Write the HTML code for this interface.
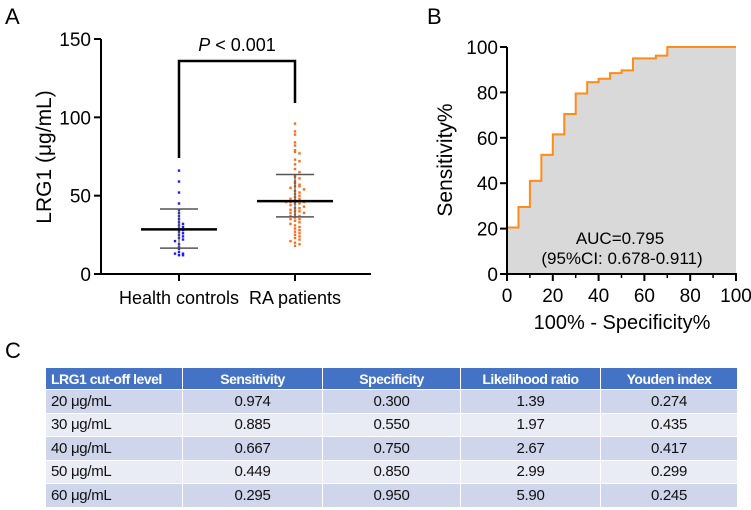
<!DOCTYPE html>
<html><head><meta charset="utf-8"><style>
body{margin:0;background:#fff;width:751px;height:510px;overflow:hidden;font-family:"Liberation Sans",Arial,sans-serif}
table{position:absolute;left:45px;top:367px;width:692px;border-collapse:collapse;font-size:15px;color:#111;table-layout:fixed;letter-spacing:-0.3px}
td,th{height:22.5px;padding:0 5px;border:1.5px solid #fff;text-align:center}
th{background:#4472C4;color:#fff;font-weight:bold;height:21px;font-size:14px;letter-spacing:-0.5px}
td:first-child,th:first-child{text-align:left}
tr:nth-child(even) td{background:#CFD5EA}
tr:nth-child(odd) td{background:#E9EBF5}
</style></head><body>
<svg id="s" width="751" height="510" style="position:absolute;left:0;top:0"></svg>
<table>
<colgroup><col style="width:137px"><col style="width:140px"><col style="width:138px"><col style="width:140px"><col style="width:137px"></colgroup>
<tr><th>LRG1 cut-off level</th><th>Sensitivity</th><th>Specificity</th><th>Likelihood ratio</th><th>Youden index</th></tr>
<tr><td>20 μg/mL</td><td>0.974</td><td>0.300</td><td>1.39</td><td>0.274</td></tr>
<tr><td>30 μg/mL</td><td>0.885</td><td>0.550</td><td>1.97</td><td>0.435</td></tr>
<tr><td>40 μg/mL</td><td>0.667</td><td>0.750</td><td>2.67</td><td>0.417</td></tr>
<tr><td>50 μg/mL</td><td>0.449</td><td>0.850</td><td>2.99</td><td>0.299</td></tr>
<tr><td>60 μg/mL</td><td>0.295</td><td>0.950</td><td>5.90</td><td>0.245</td></tr>
</table>
<script>
const groups=["Health controls","RA patients"];
const healthVals=[66,59,52,45,41,39,37,35,33,32,31,30,29,28,27,26,25,24,23,22,21,19,17,16,14,13,13,12,12];
const raVals=[96,91,89,84,82,79,78,77,73,72,70,67,65,63,62,61,59,58,57,56,56,55,54,53,52,51,50,49,48,48,47,47,46,46,46,45,45,44,43,42,42,41,40,40,39,39,38,37,37,36,35,35,34,33,32,31,30,29,28,27,26,25,24,23,22,21,20,19,18];
const groupMean=[28.5,46.5];
const groupSdLow=[16.5,36.5];
const groupSdHigh=[41.5,63.5];
const yTicksA=[0,50,100,150];
const rocX=[0,0,5,5,10,10,15,15,20,20,25,25,30,30,35,35,40,40,45,45,50,50,55,55,65,65,70,70,100];
const rocY=[0,20.5,20.5,29.5,29.5,41,41,52.5,52.5,61.5,61.5,70.5,70.5,79.5,79.5,84.5,84.5,86,86,88.5,88.5,89.7,89.7,95,95,96.2,96.2,100,100];
const rocTicks=[0,20,40,60,80,100];

const s=document.getElementById('s');const NS='http://www.w3.org/2000/svg';
function el(t,a,txt){const e=document.createElementNS(NS,t);for(const k in a)e.setAttribute(k,a[k]);if(txt!=null)e.textContent=txt;s.appendChild(e);return e;}
const yA=v=>274-v*(235/150);const xA=[179,295];
let e;
e=el('text',{x:5,y:24,'font-size':22},'A');
e=el('text',{x:427,y:24,'font-size':22},'B');
e=el('text',{x:5,y:358,'font-size':22},'C');
e=el('line',{x1:101,y1:yA(150),x2:101,y2:275,stroke:'#000','stroke-width':2});
e=el('line',{x1:100,y1:274,x2:371,y2:274,stroke:'#000','stroke-width':2});
yTicksA.forEach(t=>{
 e=el('line',{x1:94,y1:yA(t),x2:101,y2:yA(t),stroke:'#000','stroke-width':2});
 e=el('text',{x:91,y:yA(t)+7,'font-size':19,'text-anchor':'end'},t);
});
groups.forEach((g,i)=>{
 e=el('line',{x1:xA[i],y1:274,x2:xA[i],y2:281,stroke:'#000','stroke-width':2});
 e=el('text',{x:xA[i],y:304,'font-size':18,'text-anchor':'middle'},g);
});
e=el('text',{x:0,y:0,'font-size':21,'text-anchor':'middle',transform:'translate(51,157) rotate(-90)'},'LRG1 (μg/mL)');
function swarm(vals,cx,color,name,w){
 const bins={};
 vals.forEach(v=>{const b=Math.round(v/2.2);const n=bins[b]||0;bins[b]=n+1;
  const off=n===0?0:(n%2?1:-1)*Math.ceil(n/2)*w;
  e=el('rect',{x:cx+off-1.2,y:yA(v)-1.2,width:2.4,height:2.4,fill:color});});
}
swarm(healthVals,xA[0],'#1a1aff','point-health',4);
swarm(raVals,xA[1],'#ff6a1a','point-ra',4.5);
groups.forEach((g,i)=>{
 const c=xA[i];
 e=el('line',{x1:c,y1:yA(groupSdLow[i]),x2:c,y2:yA(groupSdHigh[i]),stroke:'#555','stroke-width':1.2});
 [groupSdLow[i],groupSdHigh[i]].forEach(v=>{e=el('line',{x1:c-19,y1:yA(v),x2:c+19,y2:yA(v),stroke:'#555','stroke-width':1.5});});
 e=el('line',{x1:c-38,y1:yA(groupMean[i]),x2:c+38,y2:yA(groupMean[i]),stroke:'#000','stroke-width':2.5});
});
e=el('polyline',{points:`179,158 179,61 295,61 295,103`,fill:'none',stroke:'#000','stroke-width':2.5});
e=el('text',{x:237,y:51,'font-size':18,'text-anchor':'middle'});
e.innerHTML='<tspan font-style="italic">P</tspan> &lt; 0.001';
const xB=v=>507+v*2.29, yB=v=>274-v*2.27;
let pts=rocX.map((x,i)=>xB(x)+','+yB(rocY[i])).join(' ');
e=el('polygon',{points:pts+' '+xB(100)+','+yB(0),fill:'#d9d9d9'});
e=el('line',{x1:xB(0),y1:yB(0),x2:xB(100),y2:yB(0),stroke:'#000','stroke-width':1.5,'stroke-dasharray':'5,3'});
e=el('polyline',{points:pts,fill:'none',stroke:'#ff8c1a','stroke-width':2});
e=el('line',{x1:507,y1:yB(100),x2:507,y2:275,stroke:'#000','stroke-width':2});
e=el('line',{x1:506,y1:274,x2:737,y2:274,stroke:'#000','stroke-width':2});
rocTicks.forEach(t=>{
 e=el('line',{x1:500,y1:yB(t),x2:507,y2:yB(t),stroke:'#000','stroke-width':2});
 e=el('text',{x:498,y:yB(t)+7,'font-size':19,'text-anchor':'end'},t);
 e=el('line',{x1:xB(t),y1:274,x2:xB(t),y2:281,stroke:'#000','stroke-width':2});
 e=el('text',{x:xB(t),y:302,'font-size':19,'text-anchor':'middle'},t);
});
for(let t=10;t<100;t+=20){e=el('line',{x1:xB(t),y1:274,x2:xB(t),y2:278,stroke:'#000','stroke-width':1.5});}
e=el('text',{x:0,y:0,'font-size':21,'text-anchor':'middle',transform:'translate(452,160) rotate(-90)'},'Sensitivity%');
e=el('text',{x:622,y:329,'font-size':20,'text-anchor':'middle'},'100% - Specificity%');
e=el('text',{x:620,y:244,'font-size':17,'text-anchor':'middle'},'AUC=0.795');
e=el('text',{x:622,y:264,'font-size':17,'text-anchor':'middle'},'(95%CI: 0.678-0.911)');
</script>
</body></html>
